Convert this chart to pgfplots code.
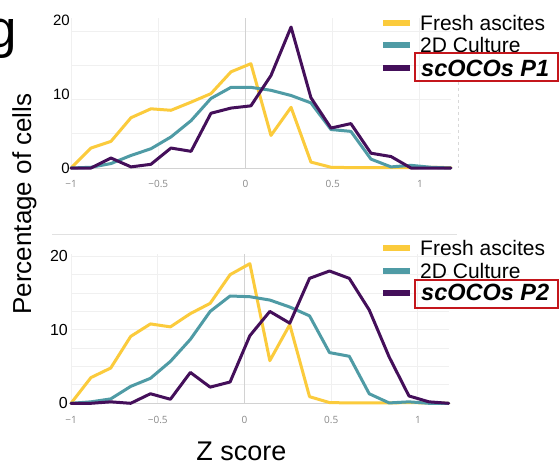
\documentclass[border=0pt]{standalone}
\usepackage{pgfplots}
\pgfplotsset{compat=1.18}
\usepackage{fontspec}
\setmainfont{Liberation Sans}
\newfontfamily\tickfont{Open Sans}
\definecolor{cyel}{HTML}{FBCB3C}
\definecolor{cteal}{HTML}{4F9BA5}
\definecolor{cpurp}{HTML}{440F5A}
\definecolor{gridc}{HTML}{F0F0F0}
\definecolor{zeroc}{HTML}{D2D2D2}
\definecolor{boxred}{HTML}{C4161C}
\definecolor{tickc}{HTML}{888888}

\pgfplotstableread{
x       fresh  culture  scoco
-1.000  0.00   0.00     0.00
-0.885  2.70   0.10     0.00
-0.771  3.60   0.60     1.35
-0.656  6.80   1.70     0.15
-0.542  8.00   2.60     0.50
-0.427  7.80   4.20     2.70
-0.312  8.90   6.40     2.25
-0.198  10.05  9.40     7.40
-0.083  13.00  10.90    8.10
0.031   14.10  10.90    8.40
0.146   4.40   10.50    12.50
0.261   8.20   9.80     19.05
0.375   0.80   8.80     9.50
0.490   0.10   5.20     5.40
0.604   0.05   4.95     6.00
0.719   0.05   1.20     2.00
0.834   0.05   0.15     1.55
0.948   0.05   0.36     0.00
1.063   0.10   0.10     0.00
1.177   0.05   0.00     0.00
}\tableA

\pgfplotstableread{
x       fresh  culture  scoco
-1.000  0.00   0.00     0.00
-0.885  3.50   0.20     0.00
-0.771  4.80   0.60     0.20
-0.656  9.10   2.30     0.00
-0.542  10.80  3.40     1.30
-0.427  10.40  5.70     0.55
-0.312  12.20  8.70     4.20
-0.198  13.60  12.50    2.20
-0.083  17.50  14.60    2.90
0.031   19.00  14.50    9.20
0.146   5.80   14.05    12.50
0.261   10.70  13.10    10.90
0.375   0.90   11.90    17.00
0.490   0.10   6.90     18.00
0.604   0.05   6.40     17.00
0.719   0.05   1.30     12.70
0.834   0.05   0.05     6.30
0.948   0.10   0.20     1.00
1.063   0.05   0.00     0.20
1.177   0.00   0.00     0.00
}\tableB

\pgfplotsset{
  panel/.style={
    scale only axis, clip=false,
    xmin=-1, xmax=1.18, ymin=0, ymax=20.3,
    axis line style={draw=none},
    major tick length=0pt, minor tick length=0pt,
    xtick={-1,-0.5,0,0.5,1},
    xticklabels={{\textminus1},{\textminus0.5},0,0.5,1},
    xticklabel style={font=\tickfont\fontsize{10bp}{12bp}\selectfont, text=tickc, anchor=base, inner sep=0pt},
    ytick={0,10,20}, yticklabels={0,10,20},
    /pgf/number format/assume math mode=true,
    yticklabel style={anchor=east, inner sep=0pt},
    xmajorgrids, major grid style={gridc, line width=1bp},
    yminorgrids, minor grid style={gridc, line width=1bp},
    every axis plot/.append style={line width=3bp, line join=round, line cap=round, no markers},
  }
}

\begin{document}
\begin{tikzpicture}
\useasboundingbox (0,0) rectangle (560bp,-468bp);
\fill[white] (0,0) rectangle (560bp,-468bp);

% panel letter
\node[anchor=base west, inner sep=0pt, font=\fontsize{53bp}{60bp}\selectfont] at (-13bp,-47.5bp) {g};

% faint separator line above bottom panel
\draw[gridc!70!lightgray, line width=0.8bp] (52bp,-234.3bp) -- (457bp,-234.3bp);
\draw[gridc!50!lightgray, line width=0.6bp, dashed] (458.5bp,-82bp) -- (458.5bp,-168bp);

% top panel
\begin{axis}[panel, at={(71bp,-168bp)}, anchor=south west,
  width=380.4bp, height=150.2bp,
  minor ytick={4.6,9.2,13.9,18.5},
  xticklabel style={yshift=-19bp},
  yticklabel style={font=\fontsize{15bp}{18bp}\selectfont, xshift=-1bp}]
  \draw[zeroc, line width=1bp] (axis cs:-1,0) -- (axis cs:1.18,0);
  \draw[zeroc, line width=1bp] (axis cs:0,0) -- (axis cs:0,20.3);
  \addplot[cyel] table[x=x, y=fresh] {\tableA};
  \addplot[cteal] table[x=x, y=culture] {\tableA};
  \addplot[cpurp] table[x=x, y=scoco] {\tableA};
\end{axis}

% bottom panel
\begin{axis}[panel, at={(71bp,-403.3bp)}, anchor=south west,
  width=378.2bp, height=149.2bp,
  minor ytick={2.5,5,...,20},
  xticklabel style={yshift=-20bp},
  yticklabel style={font=\fontsize{16bp}{19bp}\selectfont, xshift=-3bp}]
  \draw[zeroc, line width=1bp] (axis cs:-1,0) -- (axis cs:1.18,0);
  \draw[zeroc, line width=1bp] (axis cs:0,0) -- (axis cs:0,20.3);
  \addplot[cyel] table[x=x, y=fresh] {\tableB};
  \addplot[cteal] table[x=x, y=culture] {\tableB};
  \addplot[cpurp] table[x=x, y=scoco] {\tableB};
\end{axis}

% axis titles
\node[rotate=90, anchor=base, inner sep=0pt, font=\fontsize{26bp}{30bp}\selectfont] at (31bp,-204bp) {Percentage of cells};
\node[anchor=base, inner sep=0pt, font=\fontsize{27bp}{31bp}\selectfont] at (241.5bp,-460bp) {Z score};

% legend top
\draw[cyel, line width=6bp] (383bp,-23.3bp) -- (410bp,-23.3bp);
\draw[cteal, line width=6bp] (383bp,-45bp) -- (410bp,-45bp);
\draw[cpurp, line width=6bp] (383bp,-67.7bp) -- (410bp,-67.7bp);
\node[anchor=base west, inner sep=0pt, font=\fontsize{21bp}{24bp}\selectfont] at (420bp,-30bp) {Fresh ascites};
\node[anchor=base west, inner sep=0pt, font=\fontsize{21bp}{24bp}\selectfont] at (420bp,-52.3bp) {2D Culture};
\node[anchor=base west, inner sep=0pt, font=\fontsize{23.5bp}{26bp}\selectfont\bfseries\itshape] at (421bp,-76bp) {scOCOs P1};
\draw[boxred, line width=2bp] (415bp,-53.3bp) rectangle (557.7bp,-81bp);

% legend bottom
\draw[cyel, line width=6bp] (383bp,-248.3bp) -- (410bp,-248.3bp);
\draw[cteal, line width=6bp] (383bp,-270.7bp) -- (410bp,-270.7bp);
\draw[cpurp, line width=6bp] (383bp,-292.7bp) -- (410bp,-292.7bp);
\node[anchor=base west, inner sep=0pt, font=\fontsize{21bp}{24bp}\selectfont] at (420bp,-255.7bp) {Fresh ascites};
\node[anchor=base west, inner sep=0pt, font=\fontsize{21bp}{24bp}\selectfont] at (420bp,-278.3bp) {2D Culture};
\node[anchor=base west, inner sep=0pt, font=\fontsize{23.5bp}{26bp}\selectfont\bfseries\itshape] at (421bp,-300.5bp) {scOCOs P2};
\draw[boxred, line width=2bp] (415bp,-280bp) rectangle (557.7bp,-308.3bp);
\end{tikzpicture}
\end{document}
